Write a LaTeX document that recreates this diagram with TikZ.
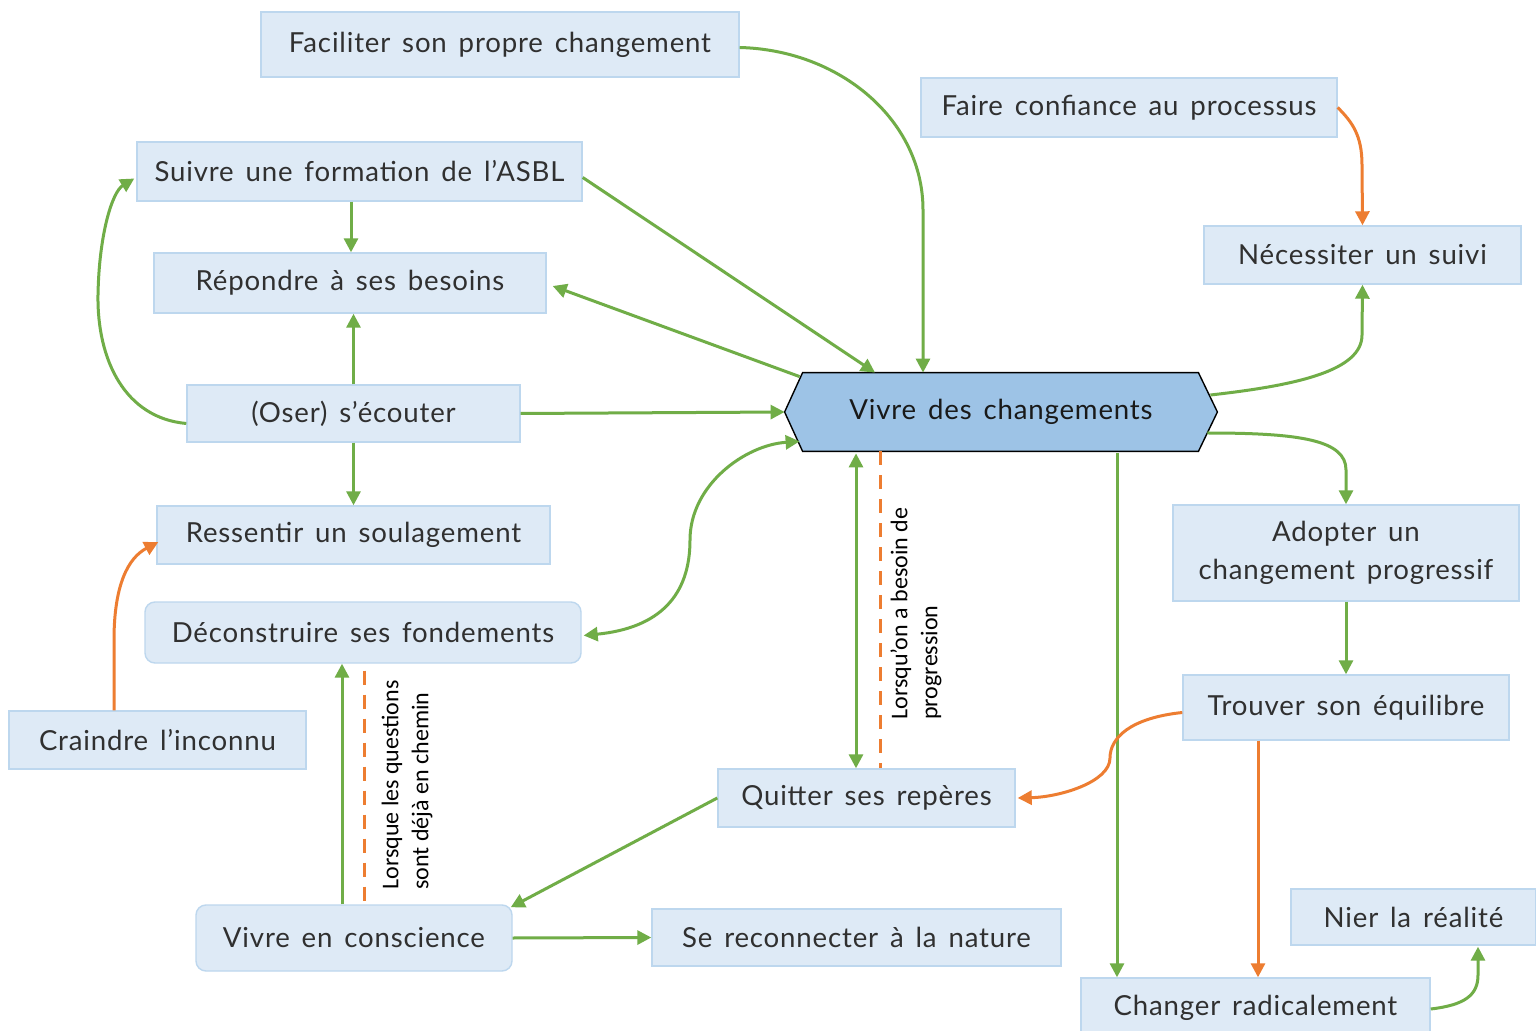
\documentclass[tikz,border=0pt]{standalone}
\usepackage{fontspec}
\setmainfont{Lato}[LetterSpace=3,WordSpace=1.5]
\newfontfamily\lblfont{Carlito}
\usetikzlibrary{calc,arrows.meta,backgrounds}
\definecolor{gr}{HTML}{70AD47}
\definecolor{orn}{HTML}{ED7D31}
\definecolor{bxf}{HTML}{DEEAF6}
\definecolor{bxd}{HTML}{BDD7EE}
\definecolor{hexf}{HTML}{9DC3E6}
\definecolor{txt}{HTML}{303030}
\begin{document}
\begin{tikzpicture}[x=0.5pt,y=-0.5pt,
  box/.style={fill=bxf,draw=bxd,line width=0.7pt,inner sep=0pt,
    font=\fontsize{13.8}{19}\selectfont,text=txt,align=center},
  sz/.style args={#1x#2}{minimum width=#1*0.5pt,minimum height=#2*0.5pt},
  g/.style={draw=gr,line width=1.5pt,-{Triangle[length=7pt,width=7pt]}},
  gg/.style={draw=gr,line width=1.5pt,{Triangle[length=7pt,width=7pt]}-{Triangle[length=7pt,width=7pt]}},
  o/.style={draw=orn,line width=1.5pt,-{Triangle[length=7pt,width=7pt]}},
  od/.style={draw=orn,line width=1.5pt,dash pattern=on 7pt off 5pt},
  lbl/.style={font=\lblfont\fontsize{12}{15}\selectfont,align=left,inner sep=0pt,rotate=90,anchor=west}
]
\begin{scope}[on background layer]
\fill[white] (0,0) rectangle (1536,1031);
\end{scope}
\useasboundingbox (0,0) rectangle (1536,1031);

% nodes
\node[box,sz=478x65] (fac) at (500,44.5) {Faciliter son propre changement};
\node[box,sz=416x59] (fai) at (1129,107.5) {Faire confiance au processus};
\node[box,sz=445x59] (sui) at (359.5,171.5) {Suivre une formation de l’ASBL};
\node[box,sz=317x58] (nec) at (1362.5,255) {Nécessiter un suivi};
\node[box,sz=392x60] (rep) at (350,283) {Répondre à ses besoins};
\node[box,sz=333x57] (ose) at (353.5,413.5) {(Oser) s’écouter};
\node[box,sz=393x58] (res) at (353.5,535) {Ressentir un soulagement};
\node[box,sz=346x96] (ado) at (1346,553) {Adopter un\\changement progressif};
\node[box,sz=436x61,rounded corners=5pt] (dec) at (363,632.5) {Déconstruire ses fondements};
\node[box,sz=326x65] (tro) at (1346,707.5) {Trouver son équilibre};
\node[box,sz=297x58] (cra) at (157.5,740) {Craindre l’inconnu};
\node[box,sz=297x58] (qui) at (866.5,798) {Quitter ses repères};
\node[box,sz=316x66,rounded corners=5pt] (vec) at (354,938) {Vivre en conscience};
\node[box,sz=409x57] (sec) at (856.5,937.5) {Se reconnecter à la nature};
\node[box,sz=245x56] (nie) at (1413.5,917) {Nier la réalité};
\node[box,sz=349x60] (cha) at (1255.5,1008) {Changer radicalement};

\node[inner sep=0pt,sz=432x78,font=\fontsize{13.8}{19}\selectfont,text=black!90] (hex) at (1001,412) {Vivre des changements};
\begin{scope}[on background layer]
\draw[fill=hexf,draw=black,line width=0.7pt,line join=miter]
  (hex.west) -- ($(hex.north west)+(18,0)$) -- ($(hex.north east)+(-19,0)$) -- (hex.east)
  -- ($(hex.south east)+(-19,0)$) -- ($(hex.south west)+(18,0)$) -- cycle;
\end{scope}

% connectors
\draw[g] ($(fac.east)+(0,3)$) .. controls (840,50) and (923,120) .. (923,210) -- ($(hex.north)+(-78,0)$);
\draw[o] (fai.east) .. controls (1352,122) and (1362,135) .. (1362,165) -- (nec.north);
\draw[g] ($(sui.east)+(0,6)$) -- ($(hex.north)+(-126,0)$);
\draw[g] ($(hex.north west)+(15,4)$) -- ($(rep.east)+(6,3)$);
\draw[g] ($(sui.south)+(-8.5,0)$) -- ($(rep.north)+(1,0)$);
\draw[g] (ose.north) -- (ose.north |- rep.south);
\draw[g] ($(ose.west)+(0,10)$) .. controls (125,418) and (97,360) .. (98,295) .. controls (99,235) and (112,192) .. ($(sui.west)+(-2,7)$);
\draw[g] (ose.east) -- (hex.west);
\draw[g] (ose.south) -- (ose.south |- res.north);
\draw[g] ($(hex.east)+(-7,-17)$) .. controls (1300,385) and (1362,370) .. (1362,335) -- (nec.south);
\draw[g] ($(hex.east)+(-10,21)$) .. controls (1300,433) and (1346,440) .. (1346,470) -- (ado.north);
\draw[gg] ($(dec.east)+(2,3)$) .. controls (660,628) and (690,595) .. (690,540) .. controls (690,485) and (745,445) .. ($(hex.south west)+(15,-10)$);
\draw[gg] ($(hex.south)+(-145,2)$) -- ($(qui.north)+(-10.5,0)$);
\draw[od] ($(hex.south)+(-121,0)$) -- ($(qui.north)+(13.5,0)$);
\node[lbl] (l1) at (916,720) {Lorsqu’on a besoin de\\progression};
\draw[g] ($(hex.south)+(116,2)$) -- ($(cha.north)+(-138.5,0)$);
\draw[g] (ado.south) -- (tro.north);
\draw[o] ($(tro.west)+(0,5)$) .. controls (1130,718) and (1110,738) .. (1110,758) .. controls (1110,782) and (1060,797) .. ($(qui.east)+(2,0)$);
\draw[o] ($(tro.south)+(-88,0)$) -- ($(cha.north)+(2.5,0)$);
\draw[g] ($(cha.east)+(0,1)$) .. controls (1465,1005) and (1478,995) .. (1478,975) -- ($(nie.south)+(64.5,1)$);
\draw[o] ($(cra.north)+(-43.5,0)$) -- (114,640) .. controls (114,585) and (128,558) .. ($(res.west)+(2,7)$);
\draw[g] (qui.west) -- ($(vec.north east)+(-2,3)$);
\draw[g] ($(vec.north)+(-12,0)$) -- ($(dec.south)+(-21,0)$);
\draw[od] ($(dec.south)+(1,7)$) -- ($(vec.north)+(10,0)$);
\node[lbl] (l2) at (407,890) {Lorsque les questions\\sont déjà en chemin};
\draw[g] (vec.east) -- (sec.west);
\end{tikzpicture}
\end{document}
